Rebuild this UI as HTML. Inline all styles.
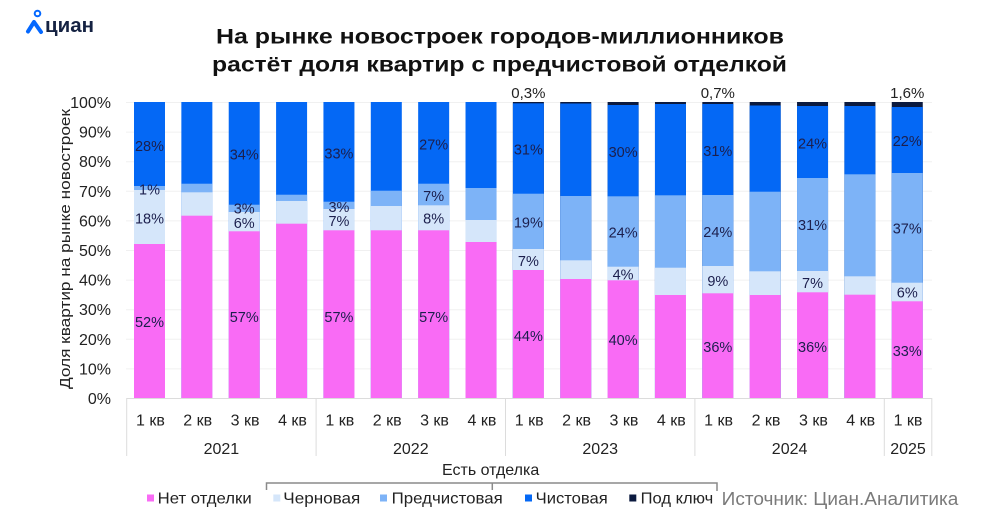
<!DOCTYPE html>
<html><head><meta charset="utf-8"><style>
html,body{margin:0;padding:0;background:#fff;}
svg{display:block;font-family:"Liberation Sans","DejaVu Sans",sans-serif;}
</style></head><body>
<svg width="1000" height="525" viewBox="0 0 1000 525" xmlns="http://www.w3.org/2000/svg">
<rect width="1000" height="525" fill="#fff"/>
<!-- logo -->
<circle cx="37.5" cy="13.5" r="2.8" fill="none" stroke="#0468FF" stroke-width="2"/>
<polyline points="28,31.5 34,22 41,32" fill="none" stroke="#0468FF" stroke-width="4" stroke-linecap="round" stroke-linejoin="round"/>
<text x="45" y="32" font-size="20" font-weight="bold" fill="#152242" textLength="49" lengthAdjust="spacingAndGlyphs">циан</text>
<!-- title -->
<text x="216" y="43.5" font-size="21.5" font-weight="bold" fill="#111" textLength="568" lengthAdjust="spacingAndGlyphs">На рынке новостроек городов-миллионников</text>
<text x="212" y="71.5" font-size="21.5" font-weight="bold" fill="#111" textLength="575" lengthAdjust="spacingAndGlyphs">растёт доля квартир с предчистовой отделкой</text>
<!-- gridlines -->
<g stroke="#f0f0f0" stroke-width="1">
<line x1="126" x2="932" y1="102.5" y2="102.5"/><line x1="126" x2="932" y1="132.1" y2="132.1"/><line x1="126" x2="932" y1="161.7" y2="161.7"/><line x1="126" x2="932" y1="191.3" y2="191.3"/><line x1="126" x2="932" y1="220.9" y2="220.9"/><line x1="126" x2="932" y1="250.5" y2="250.5"/><line x1="126" x2="932" y1="280.1" y2="280.1"/><line x1="126" x2="932" y1="309.7" y2="309.7"/><line x1="126" x2="932" y1="339.3" y2="339.3"/><line x1="126" x2="932" y1="368.9" y2="368.9"/>
</g>
<!-- y ticks -->
<g font-size="16" fill="#222" text-anchor="end">
<text x="111" y="108">100%</text><text x="111" y="137.6">90%</text><text x="111" y="167.2">80%</text><text x="111" y="196.8">70%</text><text x="111" y="226.4">60%</text><text x="111" y="256">50%</text><text x="111" y="285.6">40%</text><text x="111" y="315.2">30%</text><text x="111" y="344.8">20%</text><text x="111" y="374.4">10%</text><text x="111" y="404">0%</text>
</g>
<text transform="translate(70,249) rotate(-90)" font-size="15" fill="#222" text-anchor="middle" textLength="280" lengthAdjust="spacingAndGlyphs">Доля квартир на рынке новостроек</text>
<!-- bars -->
<g>
<!-- 1 -->
<rect x="134" y="102" width="31" height="296" fill="#0468F5"/><rect x="134" y="186" width="31" height="212" fill="#7DB3F7"/><rect x="134" y="190" width="31" height="208" fill="#D5E6FA"/><rect x="134" y="244" width="31" height="154" fill="#F96BF5"/>
<!-- 2 -->
<rect x="181.36" y="102" width="31" height="296" fill="#0468F5"/><rect x="181.36" y="183.7" width="31" height="214.3" fill="#7DB3F7"/><rect x="181.36" y="192.3" width="31" height="205.7" fill="#D5E6FA"/><rect x="181.36" y="215.7" width="31" height="182.3" fill="#F96BF5"/>
<!-- 3 -->
<rect x="228.72" y="102" width="31" height="296" fill="#0468F5"/><rect x="228.72" y="204.7" width="31" height="193.3" fill="#7DB3F7"/><rect x="228.72" y="212" width="31" height="186" fill="#D5E6FA"/><rect x="228.72" y="231.3" width="31" height="166.7" fill="#F96BF5"/>
<!-- 4 -->
<rect x="276.08" y="102" width="31" height="296" fill="#0468F5"/><rect x="276.08" y="194.7" width="31" height="203.3" fill="#7DB3F7"/><rect x="276.08" y="201" width="31" height="197" fill="#D5E6FA"/><rect x="276.08" y="223.7" width="31" height="174.3" fill="#F96BF5"/>
<!-- 5 -->
<rect x="323.44" y="102" width="31" height="296" fill="#0468F5"/><rect x="323.44" y="201.7" width="31" height="196.3" fill="#7DB3F7"/><rect x="323.44" y="209" width="31" height="189" fill="#D5E6FA"/><rect x="323.44" y="230.3" width="31" height="167.7" fill="#F96BF5"/>
<!-- 6 -->
<rect x="370.8" y="102" width="31" height="296" fill="#0468F5"/><rect x="370.8" y="190.7" width="31" height="207.3" fill="#7DB3F7"/><rect x="370.8" y="206" width="31" height="192" fill="#D5E6FA"/><rect x="370.8" y="230.3" width="31" height="167.7" fill="#F96BF5"/>
<!-- 7 -->
<rect x="418.16" y="102" width="31" height="296" fill="#0468F5"/><rect x="418.16" y="183.7" width="31" height="214.3" fill="#7DB3F7"/><rect x="418.16" y="205.3" width="31" height="192.7" fill="#D5E6FA"/><rect x="418.16" y="230.3" width="31" height="167.7" fill="#F96BF5"/>
<!-- 8 -->
<rect x="465.52" y="102" width="31" height="296" fill="#0468F5"/><rect x="465.52" y="188" width="31" height="210" fill="#7DB3F7"/><rect x="465.52" y="220" width="31" height="178" fill="#D5E6FA"/><rect x="465.52" y="242" width="31" height="156" fill="#F96BF5"/>
<!-- 9 -->
<rect x="512.88" y="102" width="31" height="296" fill="#0B1A3F"/><rect x="512.88" y="103.3" width="31" height="294.7" fill="#0468F5"/><rect x="512.88" y="193.7" width="31" height="204.3" fill="#7DB3F7"/><rect x="512.88" y="249" width="31" height="149" fill="#D5E6FA"/><rect x="512.88" y="270" width="31" height="128" fill="#F96BF5"/>
<!-- 10 -->
<rect x="560.24" y="102" width="31" height="296" fill="#0B1A3F"/><rect x="560.24" y="103.5" width="31" height="294.5" fill="#0468F5"/><rect x="560.24" y="196" width="31" height="202" fill="#7DB3F7"/><rect x="560.24" y="260.3" width="31" height="137.7" fill="#D5E6FA"/><rect x="560.24" y="279" width="31" height="119" fill="#F96BF5"/>
<!-- 11 -->
<rect x="607.6" y="102" width="31" height="296" fill="#0B1A3F"/><rect x="607.6" y="105" width="31" height="293" fill="#0468F5"/><rect x="607.6" y="196.3" width="31" height="201.7" fill="#7DB3F7"/><rect x="607.6" y="266.7" width="31" height="131.3" fill="#D5E6FA"/><rect x="607.6" y="280.3" width="31" height="117.7" fill="#F96BF5"/>
<!-- 12 -->
<rect x="654.96" y="102" width="31" height="296" fill="#0B1A3F"/><rect x="654.96" y="104" width="31" height="294" fill="#0468F5"/><rect x="654.96" y="195.3" width="31" height="202.7" fill="#7DB3F7"/><rect x="654.96" y="267.7" width="31" height="130.3" fill="#D5E6FA"/><rect x="654.96" y="295" width="31" height="103" fill="#F96BF5"/>
<!-- 13 -->
<rect x="702.32" y="102" width="31" height="296" fill="#0B1A3F"/><rect x="702.32" y="104" width="31" height="294" fill="#0468F5"/><rect x="702.32" y="195" width="31" height="203" fill="#7DB3F7"/><rect x="702.32" y="266" width="31" height="132" fill="#D5E6FA"/><rect x="702.32" y="293.3" width="31" height="104.7" fill="#F96BF5"/>
<!-- 14 -->
<rect x="749.68" y="102" width="31" height="296" fill="#0B1A3F"/><rect x="749.68" y="105.5" width="31" height="292.5" fill="#0468F5"/><rect x="749.68" y="191.7" width="31" height="206.3" fill="#7DB3F7"/><rect x="749.68" y="271.3" width="31" height="126.7" fill="#D5E6FA"/><rect x="749.68" y="295" width="31" height="103" fill="#F96BF5"/>
<!-- 15 -->
<rect x="797.04" y="102" width="31" height="296" fill="#0B1A3F"/><rect x="797.04" y="106" width="31" height="292" fill="#0468F5"/><rect x="797.04" y="178" width="31" height="220" fill="#7DB3F7"/><rect x="797.04" y="271" width="31" height="127" fill="#D5E6FA"/><rect x="797.04" y="292.3" width="31" height="105.7" fill="#F96BF5"/>
<!-- 16 -->
<rect x="844.4" y="102" width="31" height="296" fill="#0B1A3F"/><rect x="844.4" y="106" width="31" height="292" fill="#0468F5"/><rect x="844.4" y="174.3" width="31" height="223.7" fill="#7DB3F7"/><rect x="844.4" y="276.3" width="31" height="121.7" fill="#D5E6FA"/><rect x="844.4" y="294.7" width="31" height="103.3" fill="#F96BF5"/>
<!-- 17 -->
<rect x="891.76" y="102" width="31" height="296" fill="#0B1A3F"/><rect x="891.76" y="107" width="31" height="291" fill="#0468F5"/><rect x="891.76" y="173" width="31" height="225" fill="#7DB3F7"/><rect x="891.76" y="282.7" width="31" height="115.3" fill="#D5E6FA"/><rect x="891.76" y="301.3" width="31" height="96.7" fill="#F96BF5"/>
</g>
<!-- bar labels -->
<g font-size="14.5" fill="#1c1f4d" text-anchor="middle">
<text x="149.5" y="151.2">28%</text><text x="149.5" y="194.5">1%</text><text x="149.5" y="223.5">18%</text><text x="149.5" y="327.2">52%</text>
<text x="244.22" y="159.5">34%</text><text x="244.22" y="213.5">3%</text><text x="244.22" y="227.9">6%</text><text x="244.22" y="321.9">57%</text>
<text x="338.94" y="158.5">33%</text><text x="338.94" y="211.9">3%</text><text x="338.94" y="226.2">7%</text><text x="338.94" y="321.9">57%</text>
<text x="433.66" y="149.5">27%</text><text x="433.66" y="201.2">7%</text><text x="433.66" y="223.5">8%</text><text x="433.66" y="321.9">57%</text>
<text x="528.38" y="154.5">31%</text><text x="528.38" y="227.5">19%</text><text x="528.38" y="265.9">7%</text><text x="528.38" y="340.9">44%</text>
<text x="623.1" y="156.9">30%</text><text x="623.1" y="237.5">24%</text><text x="623.1" y="279.5">4%</text><text x="623.1" y="345.2">40%</text>
<text x="717.82" y="155.9">31%</text><text x="717.82" y="236.9">24%</text><text x="717.82" y="285.9">9%</text><text x="717.82" y="351.9">36%</text>
<text x="812.54" y="148.5">24%</text><text x="812.54" y="230.2">31%</text><text x="812.54" y="287.9">7%</text><text x="812.54" y="351.9">36%</text>
<text x="907.26" y="146.2">22%</text><text x="907.26" y="233.5">37%</text><text x="907.26" y="297.5">6%</text><text x="907.26" y="356.2">33%</text>
</g>
<g font-size="15" fill="#222" text-anchor="middle">
<text x="528.38" y="98">0,3%</text><text x="717.82" y="98">0,7%</text><text x="907.26" y="98">1,6%</text>
</g>
<!-- x axis -->
<g stroke="#dcdcdc" stroke-width="1">
<line x1="126.7" x2="931.8" y1="398.5" y2="398.5"/>
<line x1="126.7" x2="126.7" y1="398" y2="456"/><line x1="316.1" x2="316.1" y1="398" y2="456"/><line x1="505.5" x2="505.5" y1="398" y2="456"/><line x1="694.9" x2="694.9" y1="398" y2="456"/><line x1="884.3" x2="884.3" y1="398" y2="456"/><line x1="931.8" x2="931.8" y1="398" y2="456"/>
</g>
<g font-size="16" fill="#222" text-anchor="middle">
<text x="150.4" y="425.5">1 кв</text><text x="197.7" y="425.5">2 кв</text><text x="245.1" y="425.5">3 кв</text><text x="292.5" y="425.5">4 кв</text>
<text x="339.8" y="425.5">1 кв</text><text x="387.2" y="425.5">2 кв</text><text x="434.5" y="425.5">3 кв</text><text x="481.9" y="425.5">4 кв</text>
<text x="529.2" y="425.5">1 кв</text><text x="576.6" y="425.5">2 кв</text><text x="623.9" y="425.5">3 кв</text><text x="671.3" y="425.5">4 кв</text>
<text x="718.6" y="425.5">1 кв</text><text x="766" y="425.5">2 кв</text><text x="813.4" y="425.5">3 кв</text><text x="860.7" y="425.5">4 кв</text>
<text x="908" y="425.5">1 кв</text>
<text x="221.4" y="454">2021</text><text x="410.8" y="454">2022</text><text x="600.2" y="454">2023</text><text x="789.6" y="454">2024</text><text x="908" y="454">2025</text>
</g>
<!-- legend -->
<text x="442" y="475" font-size="16" fill="#222">Есть отделка</text>
<polyline points="266.5,490 266.5,483 717,483 717,491" fill="none" stroke="#8a8a8a" stroke-width="1.5"/>
<line x1="492.3" x2="492.3" y1="483" y2="490" stroke="#8a8a8a" stroke-width="1.5"/>
<rect x="147" y="494.5" width="7" height="7" fill="#F96BF5"/>
<rect x="273.3" y="494.5" width="7" height="7" fill="#D5E6FA"/>
<rect x="380" y="494.5" width="7" height="7" fill="#7DB3F7"/>
<rect x="525" y="494.5" width="7" height="7" fill="#0468F5"/>
<rect x="629.3" y="494.5" width="7" height="7" fill="#0B1A3F"/>
<g font-size="16" fill="#222">
<text x="157.7" y="503.3" textLength="94" lengthAdjust="spacingAndGlyphs">Нет отделки</text>
<text x="283.3" y="503.3" textLength="77" lengthAdjust="spacingAndGlyphs">Черновая</text>
<text x="391.7" y="503.3" textLength="111" lengthAdjust="spacingAndGlyphs">Предчистовая</text>
<text x="535.7" y="503.3" textLength="72" lengthAdjust="spacingAndGlyphs">Чистовая</text>
<text x="640.7" y="503.3" textLength="72.6" lengthAdjust="spacingAndGlyphs">Под ключ</text>
</g>
<text x="721.7" y="505" font-size="18" fill="#7a7a7a" textLength="236.6" lengthAdjust="spacingAndGlyphs">Источник: Циан.Аналитика</text>
</svg>
</body></html>
